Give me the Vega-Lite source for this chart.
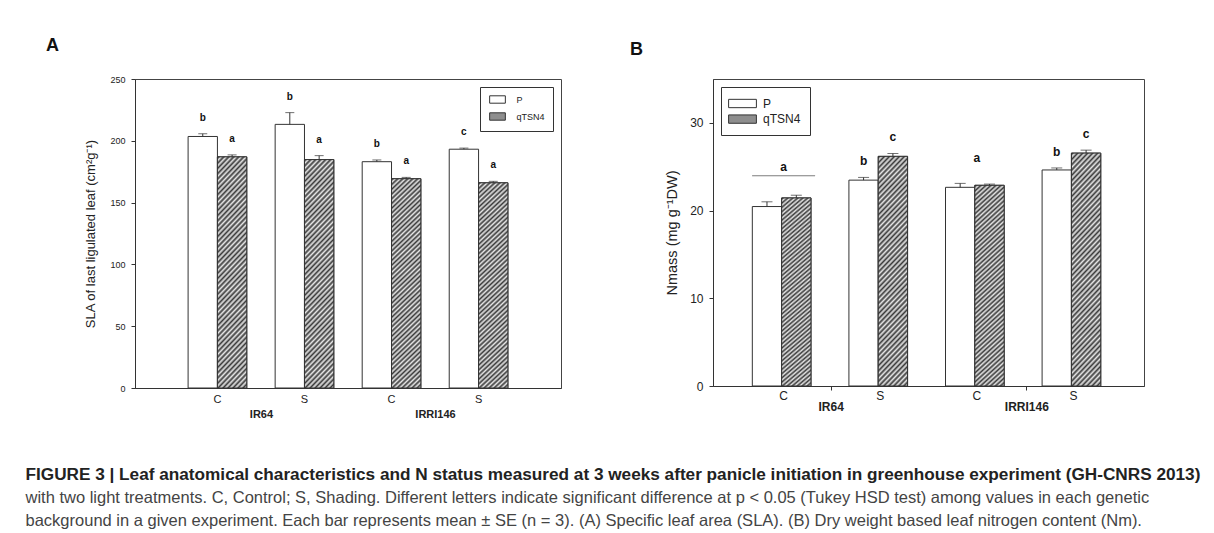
{
  "$schema": "https://vega.github.io/schema/vega-lite/v6.json",
  "padding": {"left": 25, "top": 36, "right": 0, "bottom": 0},
  "background": "white",
  "params": [
    {"name": "hatch", "value": {"gradient": "linear", "x1": 0, "y1": 0, "x2": 0.1485, "y2": 1.1135, "stops": [
      {"offset":0.005,"color":"#3a3a3a"},{"offset":0.015,"color":"#e6e6e6"},{"offset":0.025,"color":"#3a3a3a"},{"offset":0.035,"color":"#e6e6e6"},{"offset":0.045,"color":"#3a3a3a"},{"offset":0.055,"color":"#e6e6e6"},{"offset":0.065,"color":"#3a3a3a"},{"offset":0.075,"color":"#e6e6e6"},{"offset":0.085,"color":"#3a3a3a"},{"offset":0.095,"color":"#e6e6e6"},
      {"offset":0.105,"color":"#3a3a3a"},{"offset":0.115,"color":"#e6e6e6"},{"offset":0.125,"color":"#3a3a3a"},{"offset":0.135,"color":"#e6e6e6"},{"offset":0.145,"color":"#3a3a3a"},{"offset":0.155,"color":"#e6e6e6"},{"offset":0.165,"color":"#3a3a3a"},{"offset":0.175,"color":"#e6e6e6"},{"offset":0.185,"color":"#3a3a3a"},{"offset":0.195,"color":"#e6e6e6"},
      {"offset":0.205,"color":"#3a3a3a"},{"offset":0.215,"color":"#e6e6e6"},{"offset":0.225,"color":"#3a3a3a"},{"offset":0.235,"color":"#e6e6e6"},{"offset":0.245,"color":"#3a3a3a"},{"offset":0.255,"color":"#e6e6e6"},{"offset":0.265,"color":"#3a3a3a"},{"offset":0.275,"color":"#e6e6e6"},{"offset":0.285,"color":"#3a3a3a"},{"offset":0.295,"color":"#e6e6e6"},
      {"offset":0.305,"color":"#3a3a3a"},{"offset":0.315,"color":"#e6e6e6"},{"offset":0.325,"color":"#3a3a3a"},{"offset":0.335,"color":"#e6e6e6"},{"offset":0.345,"color":"#3a3a3a"},{"offset":0.355,"color":"#e6e6e6"},{"offset":0.365,"color":"#3a3a3a"},{"offset":0.375,"color":"#e6e6e6"},{"offset":0.385,"color":"#3a3a3a"},{"offset":0.395,"color":"#e6e6e6"},
      {"offset":0.405,"color":"#3a3a3a"},{"offset":0.415,"color":"#e6e6e6"},{"offset":0.425,"color":"#3a3a3a"},{"offset":0.435,"color":"#e6e6e6"},{"offset":0.445,"color":"#3a3a3a"},{"offset":0.455,"color":"#e6e6e6"},{"offset":0.465,"color":"#3a3a3a"},{"offset":0.475,"color":"#e6e6e6"},{"offset":0.485,"color":"#3a3a3a"},{"offset":0.495,"color":"#e6e6e6"},
      {"offset":0.505,"color":"#3a3a3a"},{"offset":0.515,"color":"#e6e6e6"},{"offset":0.525,"color":"#3a3a3a"},{"offset":0.535,"color":"#e6e6e6"},{"offset":0.545,"color":"#3a3a3a"},{"offset":0.555,"color":"#e6e6e6"},{"offset":0.565,"color":"#3a3a3a"},{"offset":0.575,"color":"#e6e6e6"},{"offset":0.585,"color":"#3a3a3a"},{"offset":0.595,"color":"#e6e6e6"},
      {"offset":0.605,"color":"#3a3a3a"},{"offset":0.615,"color":"#e6e6e6"},{"offset":0.625,"color":"#3a3a3a"},{"offset":0.635,"color":"#e6e6e6"},{"offset":0.645,"color":"#3a3a3a"},{"offset":0.655,"color":"#e6e6e6"},{"offset":0.665,"color":"#3a3a3a"},{"offset":0.675,"color":"#e6e6e6"},{"offset":0.685,"color":"#3a3a3a"},{"offset":0.695,"color":"#e6e6e6"},
      {"offset":0.705,"color":"#3a3a3a"},{"offset":0.715,"color":"#e6e6e6"},{"offset":0.725,"color":"#3a3a3a"},{"offset":0.735,"color":"#e6e6e6"},{"offset":0.745,"color":"#3a3a3a"},{"offset":0.755,"color":"#e6e6e6"},{"offset":0.765,"color":"#3a3a3a"},{"offset":0.775,"color":"#e6e6e6"},{"offset":0.785,"color":"#3a3a3a"},{"offset":0.795,"color":"#e6e6e6"},
      {"offset":0.805,"color":"#3a3a3a"},{"offset":0.815,"color":"#e6e6e6"},{"offset":0.825,"color":"#3a3a3a"},{"offset":0.835,"color":"#e6e6e6"},{"offset":0.845,"color":"#3a3a3a"},{"offset":0.855,"color":"#e6e6e6"},{"offset":0.865,"color":"#3a3a3a"},{"offset":0.875,"color":"#e6e6e6"},{"offset":0.885,"color":"#3a3a3a"},{"offset":0.895,"color":"#e6e6e6"},
      {"offset":0.905,"color":"#3a3a3a"},{"offset":0.915,"color":"#e6e6e6"},{"offset":0.925,"color":"#3a3a3a"},{"offset":0.935,"color":"#e6e6e6"},{"offset":0.945,"color":"#3a3a3a"},{"offset":0.955,"color":"#e6e6e6"},{"offset":0.965,"color":"#3a3a3a"},{"offset":0.975,"color":"#e6e6e6"},{"offset":0.985,"color":"#3a3a3a"},{"offset":0.995,"color":"#e6e6e6"}
    ]}},
    {"name": "hatchL", "value": {"gradient": "linear", "x1": 0, "y1": 0, "x2": 1.207, "y2": 0.483, "stops": [
      {"offset":0.036,"color":"#3a3a3a"},{"offset":0.107,"color":"#e6e6e6"},{"offset":0.179,"color":"#3a3a3a"},{"offset":0.25,"color":"#e6e6e6"},{"offset":0.321,"color":"#3a3a3a"},{"offset":0.393,"color":"#e6e6e6"},{"offset":0.464,"color":"#3a3a3a"},{"offset":0.536,"color":"#e6e6e6"},{"offset":0.607,"color":"#3a3a3a"},{"offset":0.679,"color":"#e6e6e6"},{"offset":0.75,"color":"#3a3a3a"},{"offset":0.821,"color":"#e6e6e6"},{"offset":0.893,"color":"#3a3a3a"},{"offset":0.964,"color":"#e6e6e6"}
    ]}}
  ],
  "title": {
    "text": "FIGURE 3 | Leaf anatomical characteristics and N status measured at 3 weeks after panicle initiation in greenhouse experiment (GH-CNRS 2013)",
    "subtitle": ["with two light treatments. C, Control; S, Shading. Different letters indicate significant difference at p < 0.05 (Tukey HSD test) among values in each genetic", "background in a given experiment. Each bar represents mean ± SE (n = 3). (A) Specific leaf area (SLA). (B) Dry weight based leaf nitrogen content (Nm)."],
    "orient": "bottom", "anchor": "start", "frame": "bounds", "dx": -20, "offset": 46,
    "fontSize": 17.2, "fontWeight": "bold", "color": "#222",
    "subtitleFontSize": 16.5, "subtitleColor": "#444", "subtitlePadding": 7, "subtitleLineHeight": 23
  },
  "spacing": 67,
  "hconcat": [
    {
      "width": 426, "height": 309,
      "title": {"text": "A", "anchor": "start", "frame": "group", "dx": -89, "fontSize": 18, "fontWeight": "bold", "offset": 20, "color": "#111"},
      "data": {"values": [
        {"geno": "IR64", "cat": "IR64 C", "g": "P", "v": 203.5, "hi": 205.7, "L": "b"},
        {"geno": "IR64", "cat": "IR64 C", "g": "qTSN4", "v": 187.0, "hi": 188.6, "L": "a"},
        {"geno": "IR64", "cat": "IR64 S", "g": "P", "v": 213.3, "hi": 222.8, "L": "b"},
        {"geno": "IR64", "cat": "IR64 S", "g": "qTSN4", "v": 184.8, "hi": 188.0, "L": "a"},
        {"geno": "IRRI146", "cat": "IRRI146 C", "g": "P", "v": 183.1, "hi": 184.5, "L": "b"},
        {"geno": "IRRI146", "cat": "IRRI146 C", "g": "qTSN4", "v": 169.3, "hi": 170.4, "L": "a"},
        {"geno": "IRRI146", "cat": "IRRI146 S", "g": "P", "v": 193.2, "hi": 194.1, "L": "c"},
        {"geno": "IRRI146", "cat": "IRRI146 S", "g": "qTSN4", "v": 166.0, "hi": 167.2, "L": "a"}
      ]},
      "layer": [
        {"layer": [
          {"mark": {"type": "bar", "stroke": "#333", "strokeWidth": 1},
           "encoding": {
             "x": {"field": "cat", "type": "nominal", "scale": {"domain": ["IR64 C", "IR64 S", "IRRI146 C", "IRRI146 S"], "paddingInner": 0.326, "paddingOuter": 0.61},
                   "axis": {"title": null, "labelExpr": "substring(datum.value, length(datum.value) - 1)", "ticks": false, "labelFontSize": 11, "labelPadding": 5, "labelAngle": 0}},
             "xOffset": {"field": "g", "type": "nominal", "scale": {"domain": ["P", "qTSN4"]}},
             "y": {"field": "v", "type": "quantitative", "scale": {"domain": [0, 250], "nice": false},
                   "axis": {"title": "SLA of last ligulated leaf (cm²g⁻¹)", "values": [0, 50, 100, 150, 200, 250], "grid": false, "tickSize": 4, "labelFontSize": 9, "labelPadding": 6, "titleFontSize": 13, "titleFontWeight": "normal", "titlePadding": 12}},
             "fill": {"field": "g", "type": "nominal", "scale": {"domain": ["P", "qTSN4"], "range": ["white", "#8e8e8e"]},
                      "legend": {"orient": "top-right", "offset": 8, "title": null, "strokeColor": "#333", "fillColor": "white", "padding": 8,
                                 "symbolType": "M-2,-0.94H2V0.94H-2Z", "symbolSize": 61.6, "symbolOffset": 5, "symbolStrokeColor": "#333", "symbolStrokeWidth": 1,
                                 "labelFontSize": 9, "labelOffset": 14.5, "rowPadding": 4,
                                 "encode": {"symbols": {"update": {"fill": {"signal": "datum.value === 'qTSN4' ? hatchL : 'white'"}, "stroke": {"value": "#333"}, "strokeWidth": {"value": 1}, "opacity": {"value": 1}}}}}}
           }},
          {"transform": [{"filter": "datum.g === 'qTSN4'"}],
           "mark": {"type": "bar", "fill": {"expr": "hatch"}, "stroke": "#333", "strokeWidth": 1},
           "encoding": {
             "x": {"field": "cat", "type": "nominal", "scale": {"domain": ["IR64 C", "IR64 S", "IRRI146 C", "IRRI146 S"]}},
             "xOffset": {"field": "g", "type": "nominal", "scale": {"domain": ["P", "qTSN4"]}},
             "y": {"field": "v", "type": "quantitative"}
           }},
          {"mark": {"type": "rule", "color": "#333", "strokeWidth": 1},
           "encoding": {
             "x": {"field": "cat", "type": "nominal", "scale": {"domain": ["IR64 C", "IR64 S", "IRRI146 C", "IRRI146 S"]}},
             "xOffset": {"field": "g", "type": "nominal", "scale": {"domain": ["P", "qTSN4"]}},
             "y": {"field": "v", "type": "quantitative"}, "y2": {"field": "hi"}
           }},
          {"mark": {"type": "tick", "color": "#333", "size": 9, "thickness": 1},
           "encoding": {
             "x": {"field": "cat", "type": "nominal", "scale": {"domain": ["IR64 C", "IR64 S", "IRRI146 C", "IRRI146 S"]}},
             "xOffset": {"field": "g", "type": "nominal", "scale": {"domain": ["P", "qTSN4"]}},
             "y": {"field": "hi", "type": "quantitative"}
           }},
          {"mark": {"type": "text", "dy": -16, "fontWeight": "bold", "fontSize": 10, "color": "#111", "baseline": "middle"},
           "encoding": {
             "x": {"field": "cat", "type": "nominal", "scale": {"domain": ["IR64 C", "IR64 S", "IRRI146 C", "IRRI146 S"]}},
             "xOffset": {"field": "g", "type": "nominal", "scale": {"domain": ["P", "qTSN4"]}},
             "y": {"field": "hi", "type": "quantitative"},
             "text": {"field": "L"}
           }}
        ]},
        {"mark": {"type": "point", "opacity": 0},
         "encoding": {
           "x": {"field": "geno", "type": "nominal", "scale": {"type": "point", "domain": ["IR64", "IRRI146"], "padding": 0.724},
                 "axis": {"orient": "bottom", "title": null, "ticks": false, "tickSize": 0, "domain": false, "labelFontSize": 11, "labelFontWeight": "bold", "labelPadding": 20, "labelAngle": 0}}
         }}
      ],
      "resolve": {"scale": {"x": "independent"}, "axis": {"x": "independent"}}
    },
    {
      "width": 431, "height": 307,
      "title": {"text": "B", "anchor": "start", "frame": "group", "dx": -83, "fontSize": 18, "fontWeight": "bold", "offset": 20, "color": "#111"},
      "data": {"values": [
        {"geno": "IR64", "cat": "IR64 C", "g": "P", "v": 20.46, "hi": 21.0, "L": ""},
        {"geno": "IR64", "cat": "IR64 C", "g": "qTSN4", "v": 21.44, "hi": 21.75, "L": ""},
        {"geno": "IR64", "cat": "IR64 S", "g": "P", "v": 23.47, "hi": 23.78, "L": "b"},
        {"geno": "IR64", "cat": "IR64 S", "g": "qTSN4", "v": 26.18, "hi": 26.51, "L": "c"},
        {"geno": "IRRI146", "cat": "IRRI146 C", "g": "P", "v": 22.65, "hi": 23.1, "L": ""},
        {"geno": "IRRI146", "cat": "IRRI146 C", "g": "qTSN4", "v": 22.88, "hi": 23.02, "L": ""},
        {"geno": "IRRI146", "cat": "IRRI146 S", "g": "P", "v": 24.63, "hi": 24.86, "L": "b"},
        {"geno": "IRRI146", "cat": "IRRI146 S", "g": "qTSN4", "v": 26.55, "hi": 26.89, "L": "c"}
      ]},
      "layer": [
        {"layer": [
          {"mark": {"type": "bar", "stroke": "#333", "strokeWidth": 1},
           "encoding": {
             "x": {"field": "cat", "type": "nominal", "scale": {"domain": ["IR64 C", "IR64 S", "IRRI146 C", "IRRI146 S"], "paddingInner": 0.352, "paddingOuter": 0.407},
                   "axis": {"title": null, "labelExpr": "substring(datum.value, length(datum.value) - 1)", "ticks": false, "labelFontSize": 12, "labelPadding": 4, "labelAngle": 0}},
             "xOffset": {"field": "g", "type": "nominal", "scale": {"domain": ["P", "qTSN4"]}},
             "y": {"field": "v", "type": "quantitative", "scale": {"domain": [0, 35], "nice": false},
                   "axis": {"title": "Nmass (mg g⁻¹DW)", "values": [0, 10, 20, 30], "grid": false, "tickSize": 4, "labelFontSize": 12, "labelPadding": 6, "titleFontSize": 14.5, "titleFontWeight": "normal", "titlePadding": 10}},
             "fill": {"field": "g", "type": "nominal", "scale": {"domain": ["P", "qTSN4"], "range": ["white", "#8e8e8e"]},
                      "legend": {"orient": "top-left", "offset": 8, "title": null, "strokeColor": "#333", "fillColor": "white", "padding": 9,
                                 "symbolType": "M-2,-0.6H2V0.6H-2Z", "symbolSize": 193, "symbolOffset": 5, "symbolStrokeColor": "#333", "symbolStrokeWidth": 1,
                                 "labelFontSize": 12, "labelOffset": 13, "rowPadding": 1.6,
                                 "encode": {"symbols": {"update": {"fill": {"signal": "datum.value === 'qTSN4' ? hatchL : 'white'"}, "stroke": {"value": "#333"}, "strokeWidth": {"value": 1}, "opacity": {"value": 1}}}}}}
           }},
          {"transform": [{"filter": "datum.g === 'qTSN4'"}],
           "mark": {"type": "bar", "fill": {"expr": "hatch"}, "stroke": "#333", "strokeWidth": 1},
           "encoding": {
             "x": {"field": "cat", "type": "nominal", "scale": {"domain": ["IR64 C", "IR64 S", "IRRI146 C", "IRRI146 S"]}},
             "xOffset": {"field": "g", "type": "nominal", "scale": {"domain": ["P", "qTSN4"]}},
             "y": {"field": "v", "type": "quantitative"}
           }},
          {"mark": {"type": "rule", "color": "#333", "strokeWidth": 1},
           "encoding": {
             "x": {"field": "cat", "type": "nominal", "scale": {"domain": ["IR64 C", "IR64 S", "IRRI146 C", "IRRI146 S"]}},
             "xOffset": {"field": "g", "type": "nominal", "scale": {"domain": ["P", "qTSN4"]}},
             "y": {"field": "v", "type": "quantitative"}, "y2": {"field": "hi"}
           }},
          {"mark": {"type": "tick", "color": "#333", "size": 11, "thickness": 1},
           "encoding": {
             "x": {"field": "cat", "type": "nominal", "scale": {"domain": ["IR64 C", "IR64 S", "IRRI146 C", "IRRI146 S"]}},
             "xOffset": {"field": "g", "type": "nominal", "scale": {"domain": ["P", "qTSN4"]}},
             "y": {"field": "hi", "type": "quantitative"}
           }},
          {"mark": {"type": "text", "dy": -16, "fontWeight": "bold", "fontSize": 12, "color": "#111", "baseline": "middle"},
           "encoding": {
             "x": {"field": "cat", "type": "nominal", "scale": {"domain": ["IR64 C", "IR64 S", "IRRI146 C", "IRRI146 S"]}},
             "xOffset": {"field": "g", "type": "nominal", "scale": {"domain": ["P", "qTSN4"]}},
             "y": {"field": "hi", "type": "quantitative"},
             "text": {"field": "L"}
           }},
          {"data": {"values": [
             {"cat": "IR64 C", "ly": 24.97, "L": "a", "line": 23.96},
             {"cat": "IRRI146 C", "ly": 25.99, "L": "a"}
           ]},
           "layer": [
             {"mark": {"type": "text", "fontWeight": "bold", "fontSize": 12, "color": "#111", "baseline": "middle"},
              "encoding": {
                "x": {"field": "cat", "type": "nominal", "scale": {"domain": ["IR64 C", "IR64 S", "IRRI146 C", "IRRI146 S"]}},
                "y": {"field": "ly", "type": "quantitative"},
                "text": {"field": "L"}
              }},
             {"transform": [{"filter": "isValid(datum.line)"}],
              "mark": {"type": "tick", "color": "#444", "size": 63, "thickness": 1},
              "encoding": {
                "x": {"field": "cat", "type": "nominal", "scale": {"domain": ["IR64 C", "IR64 S", "IRRI146 C", "IRRI146 S"]}},
                "y": {"field": "line", "type": "quantitative"}
              }}
           ]}
        ]},
        {"mark": {"type": "point", "opacity": 0},
         "encoding": {
           "x": {"field": "geno", "type": "nominal", "scale": {"type": "point", "domain": ["IR64", "IRRI146"], "padding": 0.601},
                 "axis": {"orient": "bottom", "title": null, "ticks": true, "tickSize": 4, "domain": false, "labelFontSize": 12, "labelFontWeight": "bold", "labelPadding": 11, "labelAngle": 0}}
         }}
      ],
      "resolve": {"scale": {"x": "independent"}, "axis": {"x": "independent"}}
    }
  ],
  "config": {
    "font": "Liberation Sans",
    "view": {"stroke": "#444", "strokeWidth": 1},
    "axis": {"labelFont": "Liberation Sans", "titleFont": "Liberation Sans", "labelColor": "#222", "titleColor": "#222", "domainColor": "#333", "tickColor": "#333"},
    "legend": {"labelFont": "Liberation Sans", "labelColor": "#222"},
    "title": {"font": "Liberation Sans", "subtitleFont": "Liberation Sans"},
    "text": {"font": "Liberation Sans"}
  }
}
